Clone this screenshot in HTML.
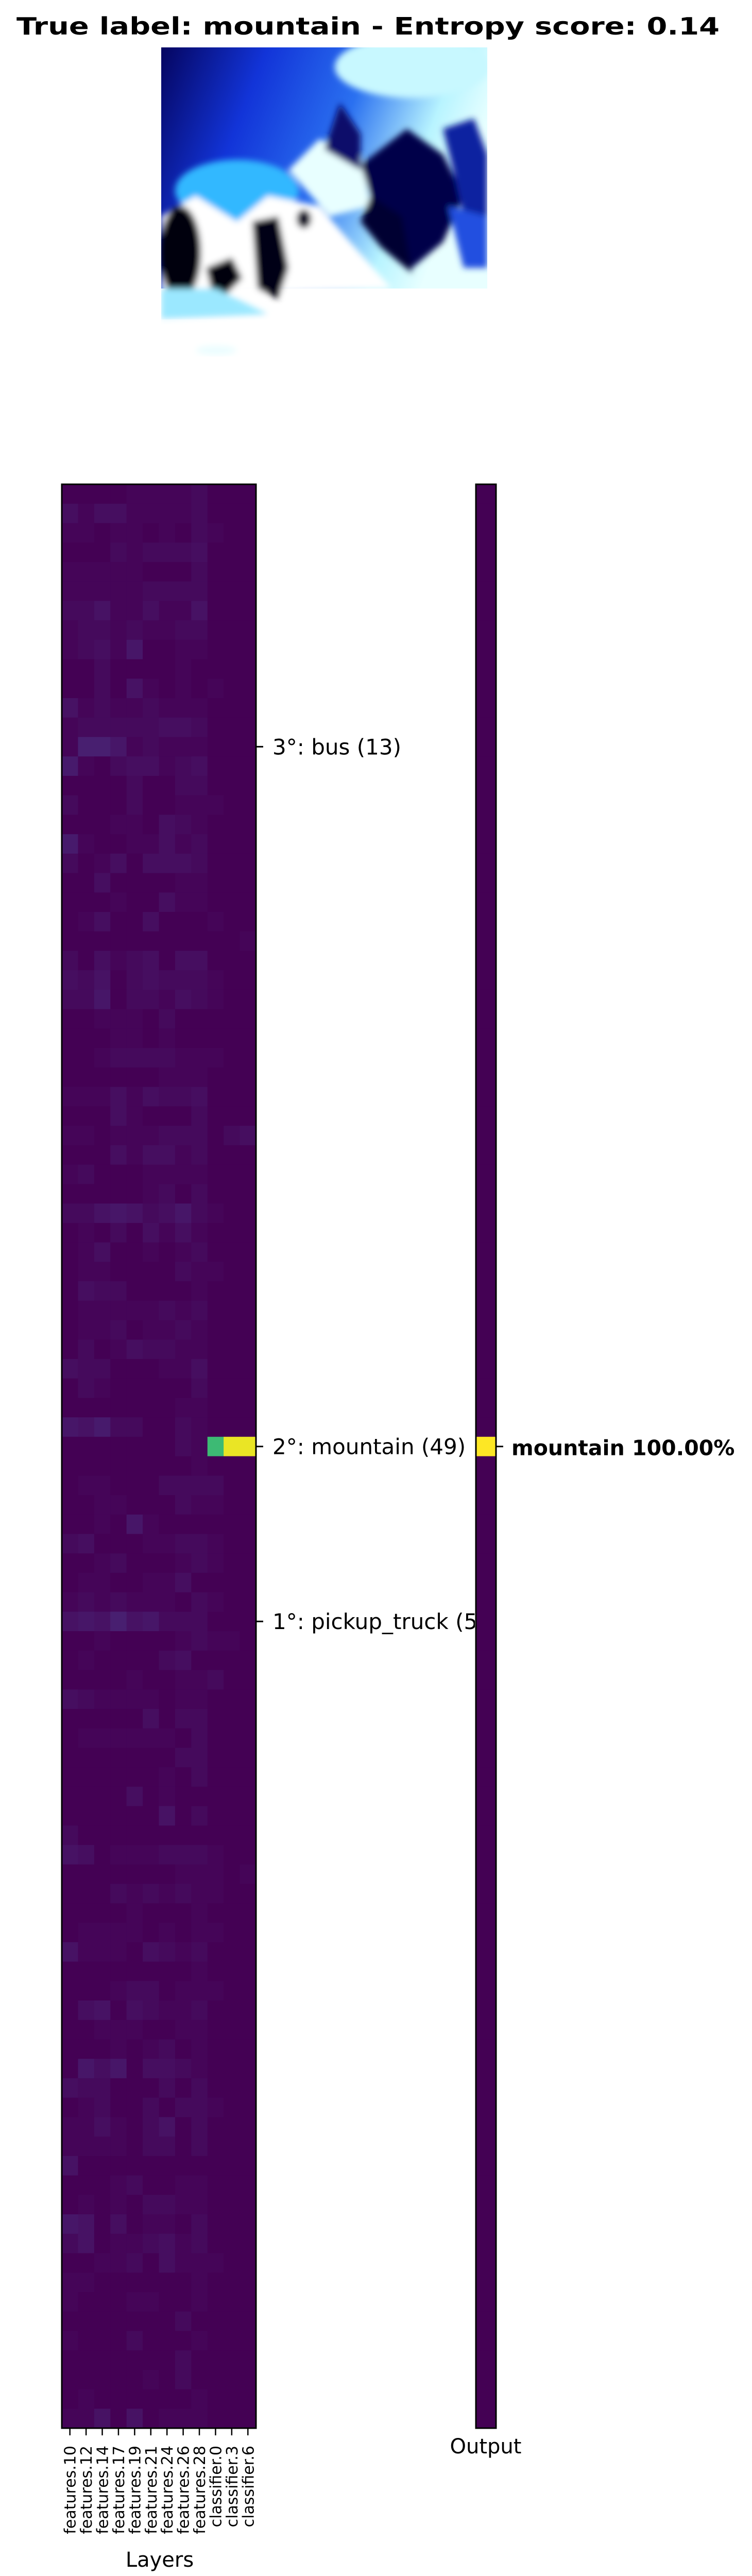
<!DOCTYPE html>
<html><head><meta charset="utf-8"><style>
html,body{margin:0;padding:0;background:#fff;width:1460px;height:5021px;overflow:hidden;}
svg{display:block;font-family:"DejaVu Sans","Liberation Sans",sans-serif;}
</style></head><body>
<svg id="fig" xmlns="http://www.w3.org/2000/svg" width="1460" height="5021" viewBox="0 0 1460 5021" overflow="hidden">
<rect x="0" y="0" width="1460" height="5021" fill="#fff"/>
<text x="32" y="67" font-size="46" font-weight="bold" textLength="1365" lengthAdjust="spacingAndGlyphs">True label: mountain - Entropy score: 0.14</text>
<g>
<defs>
<linearGradient id="sky" x1="0" y1="0" x2="1" y2="0.3">
<stop offset="0" stop-color="#050560"/><stop offset="0.3" stop-color="#1234d8"/><stop offset="0.6" stop-color="#2a70f0"/><stop offset="0.85" stop-color="#b8f4ff"/><stop offset="1" stop-color="#e8ffff"/></linearGradient>
<clipPath id="imgclip"><rect x="313" y="92" width="633" height="600"/></clipPath>
<clipPath id="lblclip"><rect x="0" y="0" width="922" height="5021"/></clipPath>
<filter id="blur"><feGaussianBlur stdDeviation="6"/></filter>
</defs>
<g clip-path="url(#imgclip)">
<rect x="313" y="92" width="633" height="480" fill="url(#sky)"/>
<rect x="313" y="560" width="633" height="140" fill="#fff"/>
<g filter="url(#blur)">
<ellipse cx="800" cy="130" rx="150" ry="60" fill="#c8f8ff"/>
<ellipse cx="460" cy="370" rx="120" ry="60" fill="#30b8ff"/>
<polygon points="313,420 380,380 460,430 520,380 620,400 680,470 760,560 313,580" fill="#ffffff"/>
<polygon points="560,330 620,270 700,300 720,400 640,420" fill="#e8ffff"/>
<polygon points="630,290 660,200 700,260 700,330" fill="#10106a"/>
<polygon points="700,320 790,250 860,300 900,380 860,470 800,520 760,450 720,380" fill="#06064a"/>
<polygon points="860,250 920,230 946,300 946,430 900,420 880,330" fill="#1020a0"/>
<polygon points="870,400 946,420 946,520 900,520" fill="#2050e0"/>
<polygon points="720,380 780,420 800,530 740,480 700,430" fill="#000030"/>
<ellipse cx="350" cy="490" rx="40" ry="90" fill="#000010"/>
<polygon points="400,520 450,500 470,540 440,570 410,560" fill="#000010"/>
<polygon points="490,430 540,420 560,520 540,580 500,560" fill="#000018"/>
<ellipse cx="590" cy="425" rx="14" ry="18" fill="#000020"/>
<polygon points="313,560 420,560 520,610 313,620" fill="#9be8ff"/>
<rect x="313" y="620" width="633" height="80" fill="#fff"/>
<ellipse cx="420" cy="680" rx="40" ry="10" fill="#d8fbff"/>
</g>
<rect x="313" y="620" width="633" height="80" fill="#fff" opacity="0.5"/>
</g>
</g>
<g id="heat"></g>
<g id="out"></g>
<g id="axes"></g>
</svg>
<script>
// Layer names (x categories)
const layers = ["features.10","features.12","features.14","features.17","features.19","features.21","features.24","features.26","features.28","classifier.0","classifier.3","classifier.6"];
// Each row = one class; each digit = activation in units of 0.012
const heatRows = [
"000011112000","313311112000","110110102100","000212223000","111110002000",
"111112222000","224113114000","122121122000","123150011000","002000010000",
"002041010100","412112111000","122222332000","177512111000","610233123000",
"000020022000","200020011100","000110321000","610011312000","201303332000",
"003000011000","000100311000","013003000100","000000000001","203123033000",
"324023222100","225022132100","001110200000","000110100000","001222211100",
"000000111000","111313223000","000310002000","110111222023","000313312000",
"120001111000","000001202000","224542352100","010203131000","013001012000",
"011000021100","032200001000","011111212000","011201121000","020132211000",
"322000113000","021000002000","000000011000","546220021000","000000021000",
"000000001000","011000222200","001100021100","001051000000","230001122100",
"001200012100","011001130000","121211102100","454745222000","001000012110",
"010000230000","000010011200","321111011000","000003022000","011111102000",
"000000022000","000000102000","000030100000","000000402000","200000000000",
"430111222100","000000011101","000212121100","000010001000","011110101100",
"411103212000","000000001000","000122011100","034032112000","001110011000",
"000101201000","053503321000","322000202000","012002022100","113102402000",
"111102202000","400000000000","000120011000","010102211000","540301102000",
"240112312000","001120311100","110000001000","100011001000","000000020000",
"100020001000","000000020000","000001020000","010000001000","114040111000"
];
const digitStep = 0.012;
// Strong activations (row, column, value)
const peakRows = [49, 49, 49];
const peakCols = [9, 10, 11];
const peakVals = [0.68, 0.97, 0.97];
// Output probabilities
const outputRowsHigh = [49];
const outputValsHigh = [1.0];
// Annotated predictions
const predLabels = ["3°: bus (13)", "2°: mountain (49)", "1°: pickup_truck (58)"];
const predRows = [13, 49, 58];
const outLabel = "mountain 100.00%";
const outRow = 49;

const NS = "http://www.w3.org/2000/svg";
const VIR = [[0,"#440154"],[0.05,"#471365"],[0.1,"#482475"],[0.15,"#463480"],[0.2,"#414487"],[0.3,"#355f8d"],[0.4,"#2a788e"],[0.5,"#21918c"],[0.6,"#22a884"],[0.7,"#44bf70"],[0.8,"#7ad151"],[0.9,"#bddf26"],[1,"#fde725"]];
function hx(c){return [1,3,5].map(i=>parseInt(c.substr(i,2),16));}
function viridis(v){v=Math.max(0,Math.min(1,v));for(let i=1;i<VIR.length;i++){if(v<=VIR[i][0]){const a=VIR[i-1],b=VIR[i];const t=(v-a[0])/(b[0]-a[0]);const ca=hx(a[1]),cb=hx(b[1]);return "rgb("+ca.map((x,k)=>Math.round(x+(cb[k]-x)*t)).join(",")+")";}}return VIR[VIR.length-1][1];}
const X0=120, X1=497, Y0=940, Y1=4713, NR=heatRows.length, NC=layers.length;
const cw=(X1-X0)/NC, rh=(Y1-Y0)/NR;
const xs=c=>X0+c*cw, ys=r=>Y0+r*rh;
const vals=heatRows.map(s=>s.split("").map(d=>+d*digitStep));
peakRows.forEach((r,i)=>{vals[r][peakCols[i]]=peakVals[i];});
const heat=document.getElementById("heat");
for(let r=0;r<NR;r++)for(let c=0;c<NC;c++){
 const el=document.createElementNS(NS,"rect");
 el.setAttribute("x",xs(c));el.setAttribute("y",ys(r));
 el.setAttribute("width",cw+0.6);el.setAttribute("height",rh+0.6);
 el.setAttribute("fill",viridis(vals[r][c]));
 
 
 heat.appendChild(el);
}
const OX0=924, OX1=963;
const outVals=new Array(NR).fill(0);
outputRowsHigh.forEach((r,i)=>{outVals[r]=outputValsHigh[i];});
const out=document.getElementById("out");
for(let r=0;r<NR;r++){
 const el=document.createElementNS(NS,"rect");
 el.setAttribute("x",OX0);el.setAttribute("y",ys(r));
 el.setAttribute("width",OX1-OX0);el.setAttribute("height",rh+0.6);
 el.setAttribute("fill",viridis(outVals[r]));
 
 
 out.appendChild(el);
}
const ax=document.getElementById("axes");
function mk(tag,attrs,txt){const e=document.createElementNS(NS,tag);for(const k in attrs)e.setAttribute(k,attrs[k]);if(txt!==undefined)e.textContent=txt;ax.appendChild(e);return e;}
let b=mk("rect",{x:X0,y:Y0,width:X1-X0,height:Y1-Y0,fill:"none",stroke:"#000","stroke-width":3});


b=mk("rect",{x:OX0,y:Y0,width:OX1-OX0,height:Y1-Y0,fill:"none",stroke:"#000","stroke-width":3});


layers.forEach((n,c)=>{
 const cx=xs(c)+cw/2;
 const t=mk("line",{x1:cx,x2:cx,y1:Y1,y2:Y1+14,stroke:"#000","stroke-width":2.5});
 
 
 const l=mk("text",{x:0,y:0,"font-size":30,"text-anchor":"end",transform:"translate("+(cx+11)+","+(Y1+34)+") rotate(-90)"},n);
 
 
});
let t=mk("text",{x:310,y:4982,"font-size":40,"text-anchor":"middle"},"Layers");


t=mk("text",{x:943,y:4762,"font-size":40,"text-anchor":"middle"},"Output");


predRows.forEach((r,i)=>{
 const cy=ys(r)+rh/2;
 const k=mk("line",{x1:X1,x2:X1+14,y1:cy,y2:cy,stroke:"#000","stroke-width":3});
 
 
 const l=mk("text",{x:529,y:cy+15,"font-size":42,"clip-path":"url(#lblclip)"},predLabels[i]);
 
 
});
const oy=ys(outRow)+rh/2;
const ok=mk("line",{x1:OX1,x2:OX1+14,y1:oy,y2:oy,stroke:"#000","stroke-width":3});


const ol=mk("text",{x:993,y:oy+17,"font-size":41,"font-weight":"bold"},outLabel);


</script>
</body></html>
